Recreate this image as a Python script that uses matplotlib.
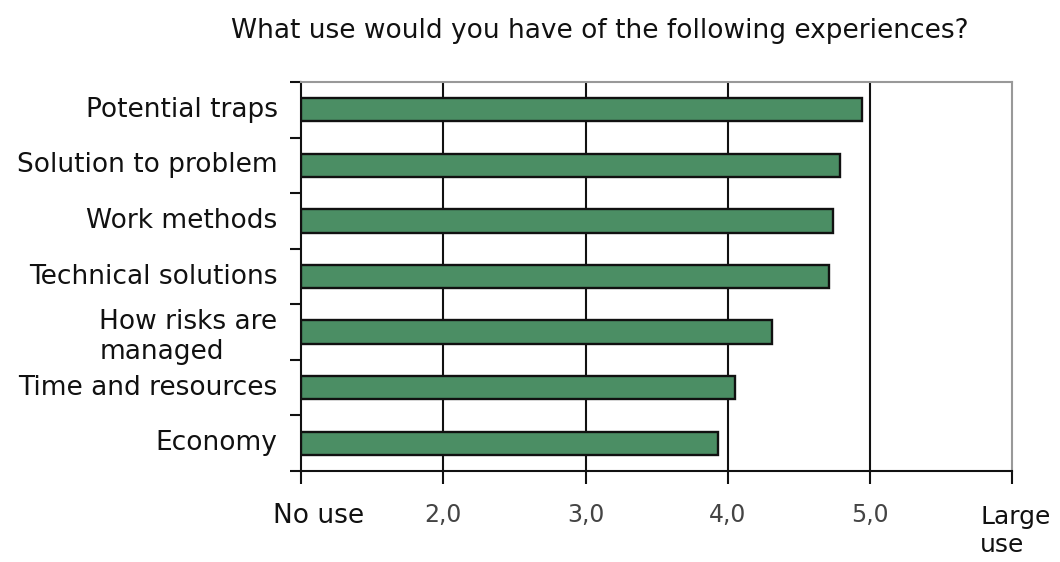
import matplotlib
matplotlib.use("Agg")
import matplotlib.pyplot as plt

categories = ["Potential traps", "Solution to problem", "Work methods",
              "Technical solutions", "How risks are\nmanaged",
              "Time and resources", "Economy"]
values = [4.94, 4.79, 4.74, 4.71, 4.31, 4.05, 3.93]
xticks = [1, 2, 3, 4, 5, 6]
xticklabels = ["", "2,0", "3,0", "4,0", "5,0", ""]

fig = plt.figure(figsize=(10.6, 5.62), dpi=100)
ax = fig.add_axes([0.284, 0.162, 0.671, 0.692])

n = len(categories)
ypos = list(range(n))
ax.barh(ypos, [v - 1 for v in values], left=1, height=0.42,
        color="#4b8e64", edgecolor="#111111", linewidth=1.7, zorder=3)
ax.set_xlim(1, 6)
ax.set_ylim(n - 0.5, -0.5)
for g in [2, 3, 4, 5]:
    ax.axvline(g, color="#111111", lw=1.5, zorder=1)

ax.set_yticks([i - 0.5 for i in range(n + 1)])
ax.set_yticklabels([])
ax.tick_params(axis="y", length=8, width=1.5, color="#111111")
for i, c in enumerate(categories):
    dy = 0.08 if "\n" in c else 0
    ax.text(-0.033, i + dy, c, transform=ax.get_yaxis_transform(), ha="right",
            va="center", fontsize=19, color="#111111", linespacing=1.2,
            multialignment="left")

ax.set_xticks(xticks)
ax.set_xticklabels(xticklabels, fontsize=17, color="#444444")
ax.tick_params(axis="x", length=9, width=1.5, color="#111111", pad=14)

ax.text(1.12, -0.115, "No use", transform=ax.get_xaxis_transform(),
        ha="center", va="center", fontsize=19, color="#111111")
ax.text(5.775, -0.155, "Large\nuse", transform=ax.get_xaxis_transform(),
        ha="left", va="center", fontsize=18, color="#111111", linespacing=1.2)

for s in ["left", "bottom"]:
    ax.spines[s].set_color("#111111")
    ax.spines[s].set_linewidth(1.5)
for s in ["top", "right"]:
    ax.spines[s].set_color("#999999")
    ax.spines[s].set_linewidth(1.5)

fig.text(0.566, 0.945, "What use would you have of the following experiences?",
         ha="center", va="center", fontsize=19, color="#111111")

fig.savefig("out.png", dpi=100)
